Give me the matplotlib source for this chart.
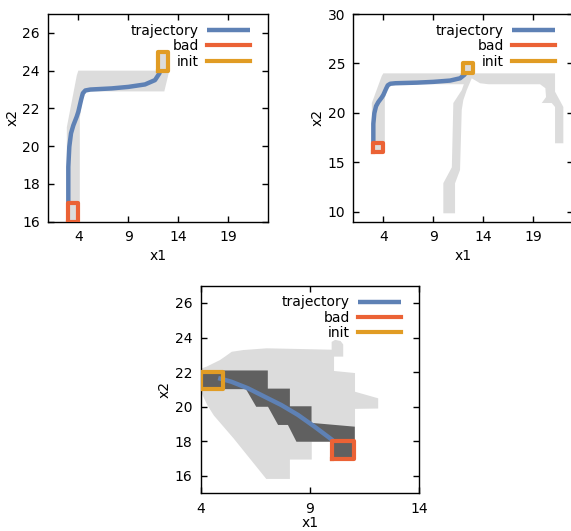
import numpy as np
import matplotlib
matplotlib.use("Agg")
import matplotlib.pyplot as plt

plt.rcParams['font.family'] = ['DejaVu Sans']
plt.rcParams['font.size'] = 10

# colours (gnuplot-ish palette)
c_traj = '#5e81b5'
c_bad = '#eb6235'
c_init = '#e19c24'
c_light = '#dcdcdc'
c_dark = '#606060'

# boxes: x0, x1, y0, y1
bad_top = [3, 4, 16, 17]
init_top = [12, 13, 24, 25]
bad_bot = [10, 11, 17, 18]
init_bot = [4, 5, 21, 22]

# trajectory shared by the two top plots
traj_x = [12.2, 12.1, 11.67, 10.67, 9.0, 7.34, 5.2, 4.7, 4.45, 4.3, 4.0, 3.84, 3.5, 3.27, 3.1, 3.0, 3.0]
traj_y = [24.0, 23.85, 23.5, 23.27, 23.14, 23.06, 23.0, 22.95, 22.8, 22.5, 21.82, 21.56, 21.1, 20.68, 19.97, 18.9, 17.0]

# reachable region, top-left
tl_reg_x = [2.85, 2.85, 3.85, 4.0, 12.0, 12.0, 13.0, 13.0, 13.1, 12.6, 4.8, 4.4, 4.15, 4.15]
tl_reg_y = [16.0, 21.0, 23.75, 24.0, 24.0, 25.0, 25.0, 24.0, 24.0, 22.9, 22.9, 22.4, 21.5, 16.0]

# reachable region, top-right
tr_reg_x = [2.85, 4.15, 4.15, 4.4, 4.8, 12.05, 11.84, 11.0, 10.85, 10.0, 10.0, 11.17, 11.17, 11.67,
            11.84, 12.0, 12.34, 12.84, 13.67, 14.5, 19.67, 20.2, 20.27, 19.84, 20.84, 21.17, 21.17,
            22.0, 22.0, 21.17, 21.17, 13.0, 13.0, 12.0, 12.0, 4.0, 3.85, 2.85]
tr_reg_y = [16.0, 16.0, 21.5, 22.4, 22.9, 22.9, 22.3, 21.0, 14.5, 12.9, 9.85, 9.85, 12.88, 14.23,
            20.3, 21.3, 22.3, 23.5, 23.0, 22.9, 22.9, 22.5, 21.6, 21.0, 21.0, 20.6, 16.93,
            16.93, 20.6, 22.15, 24.0, 24.0, 25.0, 25.0, 24.0, 24.0, 23.75, 21.0]

# bottom plot: trajectory, light region, dark region
btraj_x = [4.8, 5.4, 6.16, 6.93, 7.69, 8.45, 9.21, 9.98, 10.05]
btraj_y = [21.66, 21.45, 21.07, 20.58, 20.1, 19.53, 18.85, 18.12, 18.05]

light_x = [4.0, 4.27, 4.88, 5.11, 5.42, 5.95, 7.02, 8.54, 9.99, 9.99, 10.15, 10.4, 10.52, 10.52,
           10.1, 10.1, 11.06, 11.06, 12.12, 12.12, 11.06, 11.06, 9.08, 9.08, 8.08, 8.08, 7.0,
           5.5, 4.6, 4.3, 4.0]
light_y = [22.2, 22.32, 22.7, 22.9, 23.18, 23.28, 23.38, 23.34, 23.3, 23.75, 23.87, 23.8, 23.6, 22.9,
           22.9, 22.07, 21.95, 20.87, 20.49, 19.9, 19.88, 18.0, 18.0, 16.95, 16.95, 15.83, 15.83,
           18.18, 19.5, 20.1, 20.9]

dark_x = [4.0, 7.07, 7.07, 8.08, 8.08, 9.07, 9.07, 11.05, 11.05, 10.0, 10.0, 8.38, 7.99, 7.54,
          7.08, 6.54, 6.07, 4.0]
dark_y = [22.1, 22.1, 21.05, 21.05, 20.03, 20.03, 19.07, 18.85, 17.0, 17.0, 17.98, 17.98, 18.95, 18.95,
          20.0, 20.0, 21.02, 21.02]


def box(b):
    x0, x1, y0, y1 = b
    return [x0, x1, x1, x0, x0], [y0, y0, y1, y1, y0]


def style(ax, xlim, ylim, xticks, yticks, xlabelpad=3.5):
    ax.set_xlim(*xlim)
    ax.set_ylim(*ylim)
    ax.set_xticks(xticks)
    ax.set_yticks(yticks)
    ax.tick_params(direction='in', top=True, right=True, length=4.5, width=1,
                   labelsize=10, pad=6)
    for s in ax.spines.values():
        s.set_linewidth(1.0)
    ax.set_xlabel('x1', labelpad=xlabelpad)
    ax.set_ylabel('x2', labelpad=2)
    ax.legend(loc='upper right', bbox_to_anchor=(0.962, 1.0), markerfirst=False,
              frameon=False, handlelength=3.1, handletextpad=0.6, labelspacing=0.1,
              borderaxespad=0.4, borderpad=0.3)


def draw(ax, regions, tx, ty, bad, init):
    for rx, ry, col in regions:
        ax.fill(rx, ry, color=col, lw=0, zorder=1)
    ax.plot(tx, ty, color=c_traj, lw=3.2, label='trajectory', zorder=3,
            solid_capstyle='butt')
    bx, by = box(bad)
    ax.plot(bx, by, color=c_bad, lw=3, label='bad', zorder=4)
    ix, iy = box(init)
    ax.plot(ix, iy, color=c_init, lw=3, label='init', zorder=4)


fig = plt.figure(figsize=(5.71, 5.31), dpi=100)

ax1 = fig.add_axes([0.0846, 0.5825, 0.3853, 0.3911])
draw(ax1, [(tl_reg_x, tl_reg_y, c_light)], traj_x, traj_y, bad_top, init_top)
style(ax1, (1, 23), (16, 27), [4, 9, 14, 19], [16, 18, 20, 22, 24, 26])

ax2 = fig.add_axes([0.6188, 0.5825, 0.3853, 0.3911])
draw(ax2, [(tr_reg_x, tr_reg_y, c_light)], traj_x, traj_y, bad_top, init_top)
style(ax2, (1, 23), (9, 30), [4, 9, 14, 19], [10, 15, 20, 25, 30])

ax3 = fig.add_axes([0.3515, 0.0710, 0.3828, 0.3910])
draw(ax3, [(light_x, light_y, c_light), (dark_x, dark_y, c_dark)],
     btraj_x, btraj_y, bad_bot, init_bot)
style(ax3, (4, 14), (15, 27), [4, 9, 14], [16, 18, 20, 22, 24, 26], xlabelpad=0.5)

fig.savefig('out.png', dpi=100)
